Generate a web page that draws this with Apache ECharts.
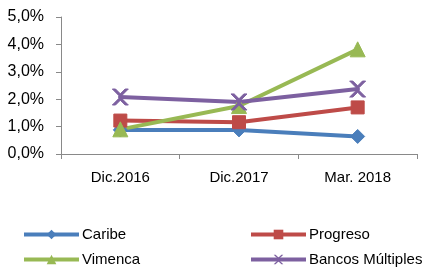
<!DOCTYPE html>
<html>
<head>
<meta charset="utf-8">
<script src="https://cdn.jsdelivr.net/npm/echarts@6/dist/echarts.min.js"></script>
<style>
html, body { margin: 0; padding: 0; background: #fff; }
#main { width: 425px; height: 269px; }
</style>
</head>
<body>
<div id="main"></div>
<script>
// datos del gráfico
var categorias = ['Dic.2016', 'Dic.2017', 'Mar. 2018'];
var caribe = [0.88, 0.88, 0.64];
var progreso = [1.22, 1.16, 1.70];
var vimenca = [0.90, 1.75, 3.82];
var bancosMultiples = [2.08, 1.90, 2.37];
var ticksY = [0, 1, 2, 3, 4, 5];

var myChart = echarts.init(document.getElementById('main'));
var fuente = 'Liberation Sans';

function serie(nombre, datos, color, simbolo, tam) {
    return {
        name: nombre,
        type: 'line',
        data: datos,
        symbol: simbolo,
        symbolSize: tam,
        lineStyle: { color: color, width: 4 },
        itemStyle: { color: color, borderColor: color },
        emphasis: { disabled: true },
        animation: false
    };
}

function leyenda(nombre, left, top) {
    return {
        data: [nombre],
        left: left,
        top: top,
        itemWidth: 55,
        itemHeight: 12,
        padding: 0,
        itemGap: 0,
        lineStyle: { width: 4 },
        textStyle: { fontFamily: fuente, fontSize: 15, color: '#000', padding: [0, 0, 0, -2] }
    };
}

var option = {
    backgroundColor: '#fff',
    grid: { left: 61, right: 8, top: 17, bottom: 115 },
    legend: [
        leyenda('Caribe', 22, 227),
        leyenda('Progreso', 249, 227),
        leyenda('Vimenca', 22, 252),
        leyenda('Bancos Múltiples', 249, 252)
    ],
    xAxis: {
        type: 'category',
        data: categorias,
        boundaryGap: true,
        axisLine: { lineStyle: { color: '#898989', width: 1 } },
        axisTick: { show: true, length: 5, lineStyle: { color: '#898989' } },
        axisLabel: { fontFamily: fuente, fontSize: 15, color: '#000', margin: 16 }
    },
    yAxis: {
        type: 'value',
        min: 0,
        max: 5,
        interval: 1,
        splitLine: { show: false },
        axisLine: { show: true, lineStyle: { color: '#898989', width: 1 } },
        axisTick: { show: true, length: 5, lineStyle: { color: '#898989' } },
        axisLabel: {
            fontFamily: fuente, fontSize: 16, color: '#000', margin: 17,
            formatter: function (v) { return v.toFixed(1).replace('.', ',') + '%'; }
        }
    },
    series: [
        serie('Caribe', caribe, '#4a7ebb', 'diamond', 14),
        serie('Progreso', progreso, '#be4b48', 'rect', 13),
        serie('Vimenca', vimenca, '#98b954', 'triangle', 15),
        serie('Bancos Múltiples', bancosMultiples, '#7d60a0',
            'path://M0,0 L2,0 L5,3 L8,0 L10,0 L6,4 L6,6 L10,10 L8,10 L5,7 L2,10 L0,10 L4,6 L4,4 Z', 16)
    ]
};

myChart.setOption(option);
</script>
</body>
</html>
